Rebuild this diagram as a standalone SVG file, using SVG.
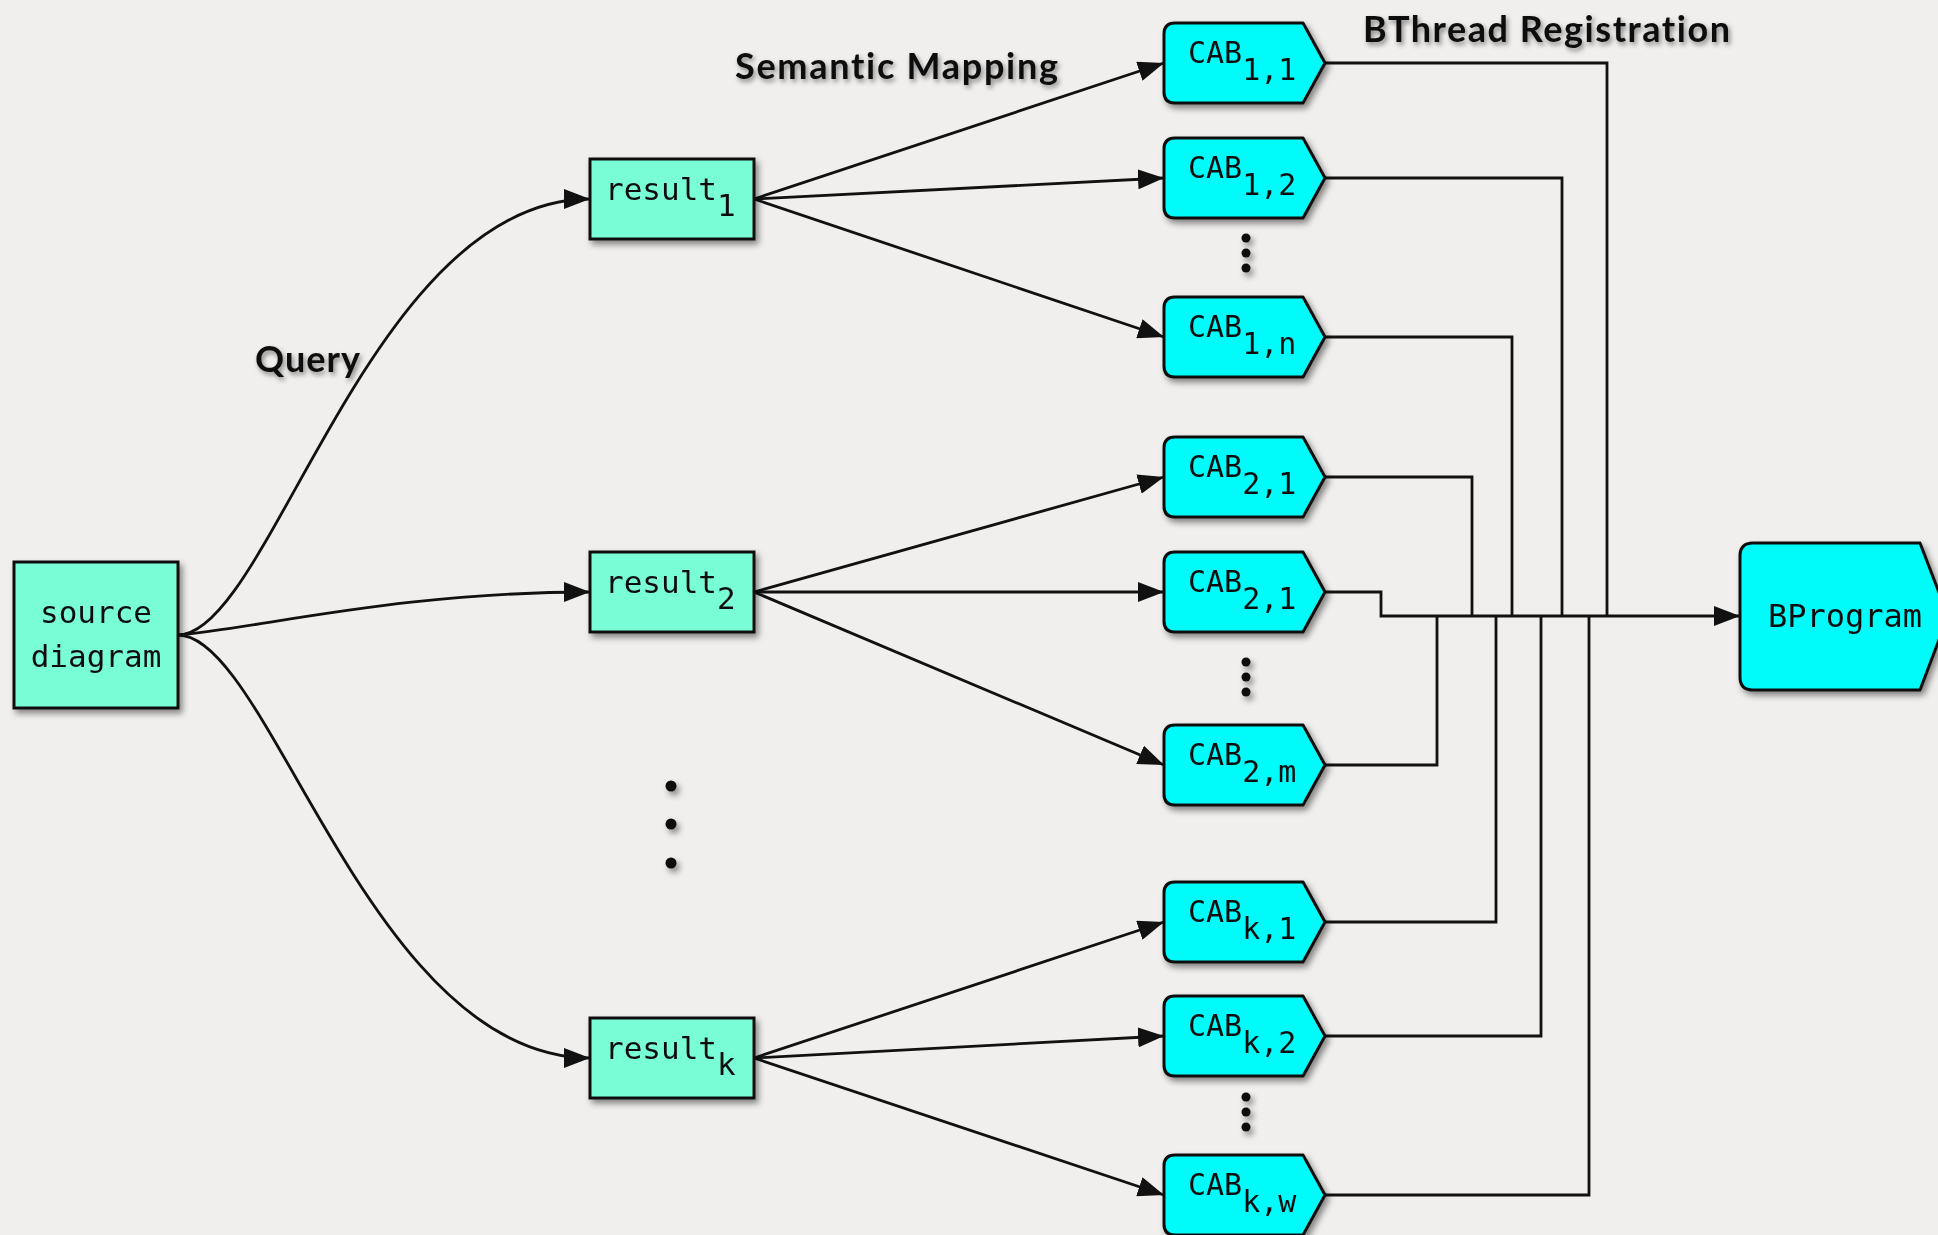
<svg xmlns="http://www.w3.org/2000/svg" width="1938" height="1235" viewBox="0 0 1938 1235">
  <defs>
    <style>
      .box { fill: #79fdd6; stroke: #111; stroke-width: 3; }
      .cab { fill: #00fbfb; stroke: #111; stroke-width: 3; stroke-linejoin: round; }
      .mono { font-family: "DejaVu Sans Mono", "Liberation Mono", monospace; fill: #111; }
      .lbl { font-family: Lato, "Open Sans", sans-serif; font-weight: 700; font-size: 36px; fill: #111; font-variant-ligatures: none; font-feature-settings: "liga" 0, "clig" 0, "dlig" 0; }
      .edge { fill: none; stroke: #111; stroke-width: 2.8; }
      .wire { fill: none; stroke: #111; stroke-width: 2.8; stroke-linejoin: miter; }
      .dot { fill: #111; }
    </style>
    <filter id="shadow" x="-20%" y="-20%" width="140%" height="150%">
      <feDropShadow dx="3" dy="4" stdDeviation="3" flood-color="#000" flood-opacity="0.45"/>
    </filter>
    <filter id="tshadow" x="-10%" y="-30%" width="120%" height="170%">
      <feDropShadow dx="2" dy="3" stdDeviation="2.5" flood-color="#000" flood-opacity="0.45"/>
    </filter>
    <marker id="arrow" markerUnits="userSpaceOnUse" markerWidth="28" markerHeight="20" refX="26" refY="10" orient="auto">
      <path d="M0,0 L26,10 L0,20 Z" fill="#111"/>
    </marker>
  </defs>

  <rect width="1938" height="1235" fill="#f0efed"/>

  <!-- labels -->
  <g filter="url(#tshadow)">
    <text class="lbl" x="735" y="79" textLength="323">Semantic Mapping</text>
    <text class="lbl" x="1363" y="42" textLength="367">BThread Registration</text>
    <text class="lbl" x="255" y="372" textLength="105">Query</text>
  </g>

  <!-- connectors -->
  <g id="connectors">
    <!-- query curves -->
    <path class="edge" d="M178,635 C270,635 370,199 590,199" marker-end="url(#arrow)"/>
    <path class="edge" d="M178,635 C260,628 400,592 590,592" marker-end="url(#arrow)"/>
    <path class="edge" d="M178,635 C270,635 370,1058 590,1058" marker-end="url(#arrow)"/>
    <!-- semantic mapping -->
    <path class="edge" d="M754,199 L1164,63" marker-end="url(#arrow)"/>
    <path class="edge" d="M754,199 L1164,178" marker-end="url(#arrow)"/>
    <path class="edge" d="M754,199 L1164,337" marker-end="url(#arrow)"/>
    <path class="edge" d="M754,592 L1164,477" marker-end="url(#arrow)"/>
    <path class="edge" d="M754,592 L1164,592" marker-end="url(#arrow)"/>
    <path class="edge" d="M754,592 L1164,765" marker-end="url(#arrow)"/>
    <path class="edge" d="M754,1058 L1164,922" marker-end="url(#arrow)"/>
    <path class="edge" d="M754,1058 L1164,1036" marker-end="url(#arrow)"/>
    <path class="edge" d="M754,1058 L1164,1195" marker-end="url(#arrow)"/>
    <!-- bthread registration -->
    <path class="wire" d="M1325,63 H1607 V616"/>
    <path class="wire" d="M1325,178 H1562 V616"/>
    <path class="wire" d="M1325,337 H1512 V616"/>
    <path class="wire" d="M1325,477 H1472 V616"/>
    <path class="wire" d="M1325,765 H1437 V616"/>
    <path class="wire" d="M1325,922 H1496 V616"/>
    <path class="wire" d="M1325,1036 H1541 V616"/>
    <path class="wire" d="M1325,1195 H1589 V616"/>
    <path class="wire" d="M1325,592 H1381 V616 H1740" marker-end="url(#arrow)"/>
  </g>

  <!-- source node -->
  <g id="source" filter="url(#shadow)">
    <rect class="box" x="14" y="562" width="164" height="146"/>
    <text class="mono" font-size="31" x="96" y="623" text-anchor="middle">source</text>
    <text class="mono" font-size="31" x="96" y="667" text-anchor="middle">diagram</text>
  </g>

  <!-- query results -->
  <g id="result1" filter="url(#shadow)">
    <rect class="box" x="590" y="159" width="164" height="80"/>
    <text class="mono" font-size="31" x="605" y="200">result<tspan dy="16">1</tspan></text>
  </g>
  <g id="result2" filter="url(#shadow)">
    <rect class="box" x="590" y="552" width="164" height="80"/>
    <text class="mono" font-size="31" x="605" y="593">result<tspan dy="16">2</tspan></text>
  </g>
  <g id="resultk" filter="url(#shadow)">
    <rect class="box" x="590" y="1018" width="164" height="80"/>
    <text class="mono" font-size="31" x="605" y="1059">result<tspan dy="16">k</tspan></text>
  </g>

  <!-- behaviour nodes -->
  <g id="cab11" filter="url(#shadow)">
    <path class="cab" d="M1175,23 H1303 L1325,63 L1303,103 H1175 Q1164,103 1164,92 V34 Q1164,23 1175,23 Z"/>
    <text class="mono" font-size="30" x="1188" y="63">CAB<tspan dy="17">1,1</tspan></text>
  </g>
  <g id="cab12" filter="url(#shadow)">
    <path class="cab" d="M1175,138 H1303 L1325,178 L1303,218 H1175 Q1164,218 1164,207 V149 Q1164,138 1175,138 Z"/>
    <text class="mono" font-size="30" x="1188" y="178">CAB<tspan dy="17">1,2</tspan></text>
  </g>
  <g id="cab1n" filter="url(#shadow)">
    <path class="cab" d="M1175,297 H1303 L1325,337 L1303,377 H1175 Q1164,377 1164,366 V308 Q1164,297 1175,297 Z"/>
    <text class="mono" font-size="30" x="1188" y="337">CAB<tspan dy="17">1,n</tspan></text>
  </g>
  <g id="cab21a" filter="url(#shadow)">
    <path class="cab" d="M1175,437 H1303 L1325,477 L1303,517 H1175 Q1164,517 1164,506 V448 Q1164,437 1175,437 Z"/>
    <text class="mono" font-size="30" x="1188" y="477">CAB<tspan dy="17">2,1</tspan></text>
  </g>
  <g id="cab21b" filter="url(#shadow)">
    <path class="cab" d="M1175,552 H1303 L1325,592 L1303,632 H1175 Q1164,632 1164,621 V563 Q1164,552 1175,552 Z"/>
    <text class="mono" font-size="30" x="1188" y="592">CAB<tspan dy="17">2,1</tspan></text>
  </g>
  <g id="cab2m" filter="url(#shadow)">
    <path class="cab" d="M1175,725 H1303 L1325,765 L1303,805 H1175 Q1164,805 1164,794 V736 Q1164,725 1175,725 Z"/>
    <text class="mono" font-size="30" x="1188" y="765">CAB<tspan dy="17">2,m</tspan></text>
  </g>
  <g id="cabk1" filter="url(#shadow)">
    <path class="cab" d="M1175,882 H1303 L1325,922 L1303,962 H1175 Q1164,962 1164,951 V893 Q1164,882 1175,882 Z"/>
    <text class="mono" font-size="30" x="1188" y="922">CAB<tspan dy="17">k,1</tspan></text>
  </g>
  <g id="cabk2" filter="url(#shadow)">
    <path class="cab" d="M1175,996 H1303 L1325,1036 L1303,1076 H1175 Q1164,1076 1164,1065 V1007 Q1164,996 1175,996 Z"/>
    <text class="mono" font-size="30" x="1188" y="1036">CAB<tspan dy="17">k,2</tspan></text>
  </g>
  <g id="cabkw" filter="url(#shadow)">
    <path class="cab" d="M1175,1155 H1303 L1325,1195 L1303,1235 H1175 Q1164,1235 1164,1224 V1166 Q1164,1155 1175,1155 Z"/>
    <text class="mono" font-size="30" x="1188" y="1195">CAB<tspan dy="17">k,w</tspan></text>
  </g>

  <!-- program node -->
  <g id="bprogram" filter="url(#shadow)">
    <path class="cab" d="M1753,543 H1920 L1948,616 L1920,690 H1753 Q1740,690 1740,677 V556 Q1740,543 1753,543 Z"/>
    <text class="mono" font-size="32" x="1768" y="627">BProgram</text>
  </g>

  <!-- ellipses -->
  <g filter="url(#shadow)">
    <circle class="dot" cx="1246" cy="238" r="4.5"/>
    <circle class="dot" cx="1246" cy="253" r="4.5"/>
    <circle class="dot" cx="1246" cy="268" r="4.5"/>
    <circle class="dot" cx="1246" cy="662" r="4.5"/>
    <circle class="dot" cx="1246" cy="677" r="4.5"/>
    <circle class="dot" cx="1246" cy="692" r="4.5"/>
    <circle class="dot" cx="1246" cy="1097" r="4.5"/>
    <circle class="dot" cx="1246" cy="1112" r="4.5"/>
    <circle class="dot" cx="1246" cy="1127" r="4.5"/>
    <circle class="dot" cx="671" cy="786" r="5.5"/>
    <circle class="dot" cx="671" cy="824" r="5.5"/>
    <circle class="dot" cx="671" cy="863" r="5.5"/>
  </g>
</svg>
